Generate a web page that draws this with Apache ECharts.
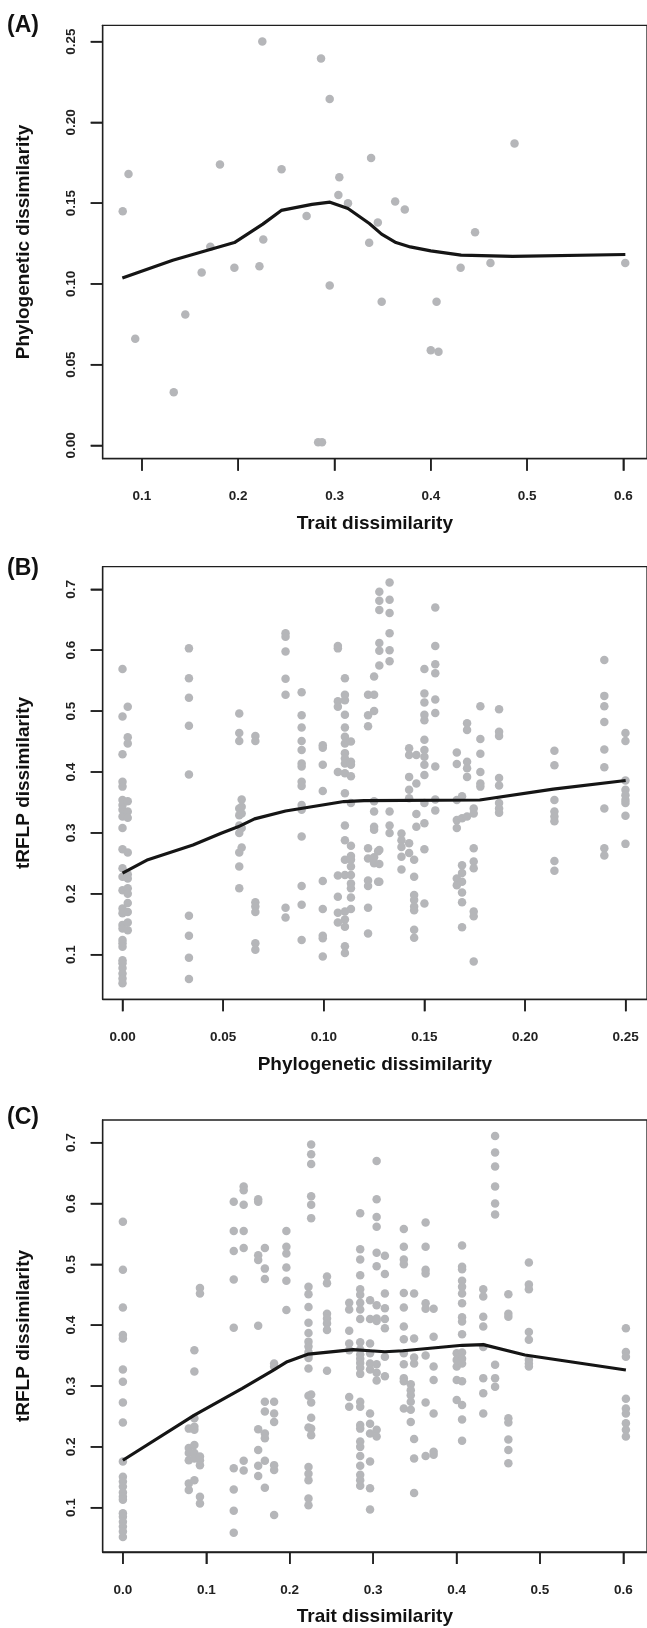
<!DOCTYPE html>
<html>
<head>
<meta charset="utf-8">
<script src="https://cdn.jsdelivr.net/npm/echarts@6/dist/echarts.min.js"></script>
<style>html,body{margin:0;padding:0;background:#fff;}#c{width:647px;height:1628px;}</style>
</head>
<body>
<div id="c"></div>
<script>
// ---------- Panel A: trait vs phylogenetic dissimilarity ----------
const aTrait = [0.080,0.086,0.181,0.225,0.245,0.286,0.295,0.338,0.305,0.304,0.314,0.363,0.373,0.271,0.345,0.226,0.171,0.336,0.446,0.487,0.431,0.462,0.602,0.196,0.222,0.162,0.093,0.145,0.133,0.295,0.349,0.406,0.400,0.408,0.283,0.287];
const aPhylo = [0.145,0.168,0.174,0.250,0.171,0.2395,0.2145,0.178,0.166,0.155,0.150,0.151,0.146,0.142,0.138,0.1275,0.123,0.1255,0.132,0.187,0.110,0.113,0.113,0.110,0.111,0.107,0.066,0.081,0.033,0.099,0.089,0.089,0.059,0.058,0.002,0.002];
const aFitX = [0.0796,0.132,0.196,0.2255,0.2447,0.2766,0.2953,0.314,0.3362,0.3489,0.3638,0.3787,0.400,0.4315,0.4851,0.6021];
const aFitY = [0.1036,0.1147,0.1256,0.137,0.1455,0.1492,0.1506,0.1467,0.1374,0.1308,0.1256,0.1229,0.1205,0.1178,0.1171,0.1182];
const aXTicks = [0.1,0.2,0.3,0.4,0.5,0.6];
const aYTicks = [0,0.05,0.10,0.15,0.20,0.25];

// ---------- Panel B: phylogenetic vs tRFLP dissimilarity (grouped by x) ----------
const bX = [0.000,0.0026,0.033,0.058,0.0592,0.066,0.081,0.089,0.0995,0.107,0.1105,0.1135,0.122,0.125,0.127,0.1276,0.1327,0.1386,0.1424,0.1449,0.146,0.150,0.1554,0.1661,0.1687,0.1712,0.1745,0.1778,0.1871,0.2146,0.2394,0.2499];
const bY = [
 [0.569,0.491,0.429,0.384,0.376,0.354,0.346,0.338,0.327,0.308,0.273,0.242,0.228,0.206,0.176,0.168,0.149,0.143,0.124,0.119,0.113,0.091,0.086,0.078,0.069,0.061,0.053],
 [0.507,0.457,0.447,0.352,0.335,0.325,0.268,0.232,0.225,0.209,0.200,0.185,0.170,0.153,0.140],
 [0.603,0.554,0.522,0.476,0.396,0.164,0.131,0.095,0.060],
 [0.496,0.464,0.451,0.340,0.329,0.312,0.300,0.268,0.245,0.209],
 [0.355,0.343,0.332,0.308,0.276],
 [0.459,0.451,0.186,0.179,0.170,0.119,0.108],
 [0.628,0.622,0.598,0.553,0.527,0.177,0.161],
 [0.531,0.493,0.473,0.451,0.436,0.414,0.409,0.384,0.377,0.346,0.338,0.294,0.213,0.182,0.124],
 [0.444,0.440,0.412,0.369,0.221,0.175,0.131,0.127,0.097],
 [0.607,0.603,0.516,0.507,0.400,0.230,0.195,0.169,0.153],
 [0.554,0.527,0.518,0.494,0.473,0.458,0.447,0.431,0.422,0.414,0.398,0.365,0.312,0.288,0.256,0.231,0.171,0.158,0.146,0.114,0.103],
 [0.450,0.417,0.412,0.393,0.349,0.279,0.262,0.256,0.245,0.231,0.217,0.209,0.194,0.175],
 [0.527,0.493,0.475,0.275,0.258,0.222,0.213,0.177,0.135],
 [0.557,0.527,0.500,0.352,0.335,0.310,0.305,0.260,0.250],
 [0.270,0.220],
 [0.696,0.681,0.666,0.612,0.599,0.575,0.272,0.249,0.220],
 [0.711,0.683,0.661,0.628,0.600,0.582,0.335,0.312,0.300],
 [0.299,0.288,0.277,0.261,0.240],
 [0.439,0.428,0.392,0.371,0.357,0.283,0.267],
 [0.256,0.228,0.198,0.190,0.179,0.173,0.141,0.128],
 [0.428,0.381,0.331,0.310],
 [0.569,0.529,0.514,0.494,0.485,0.453,0.436,0.425,0.412,0.395,0.349,0.316,0.273,0.184],
 [0.670,0.607,0.577,0.562,0.519,0.497,0.409,0.355,0.337],
 [0.432,0.413,0.354,0.321,0.308,0.225,0.214],
 [0.360,0.324,0.247,0.234,0.220,0.202,0.186,0.145],
 [0.480,0.469,0.417,0.406,0.392,0.327],
 [0.340,0.332,0.275,0.253,0.242,0.171,0.163,0.089],
 [0.508,0.454,0.430,0.400,0.381,0.376],
 [0.503,0.466,0.459,0.390,0.378,0.349,0.340,0.333],
 [0.435,0.411,0.354,0.335,0.327,0.319,0.254,0.238],
 [0.584,0.525,0.508,0.482,0.437,0.408,0.340,0.275,0.263],
 [0.464,0.451,0.386,0.371,0.362,0.354,0.349,0.328,0.282]
];
const bFitX = [0,0.0126,0.035,0.049,0.0574,0.0656,0.081,0.094,0.110,0.120,0.1775,0.214,0.25];
const bFitY = [0.234,0.256,0.280,0.2995,0.310,0.323,0.336,0.343,0.3515,0.353,0.354,0.372,0.386];
const bXTicks = [0,0.05,0.10,0.15,0.20,0.25];
const bYTicks = [0.1,0.2,0.3,0.4,0.5,0.6,0.7];

// ---------- Panel C: trait vs tRFLP dissimilarity (grouped by x) ----------
const cX = [0.000,0.079,0.0857,0.0924,0.1329,0.1448,0.1622,0.1702,0.1813,0.196,0.2225,0.2257,0.2447,0.2713,0.2845,0.2963,0.3042,0.3141,0.3368,0.3451,0.3491,0.3629,0.3725,0.4002,0.4066,0.4320,0.4462,0.4621,0.4867,0.6030];
const cY = [
 [0.570,0.491,0.429,0.384,0.378,0.327,0.307,0.273,0.240,0.176,0.151,0.143,0.135,0.125,0.118,0.113,0.091,0.085,0.077,0.069,0.061,0.052],
 [0.230,0.198,0.190,0.178,0.140,0.129],
 [0.359,0.324,0.247,0.233,0.228,0.203,0.190,0.181,0.145],
 [0.461,0.452,0.184,0.178,0.170,0.118,0.107],
 [0.603,0.555,0.522,0.475,0.396,0.165,0.130,0.095,0.059],
 [0.628,0.622,0.598,0.555,0.527,0.177,0.161],
 [0.607,0.603,0.515,0.507,0.399,0.229,0.195,0.169,0.152],
 [0.527,0.493,0.476,0.274,0.258,0.222,0.214,0.177,0.133],
 [0.337,0.332,0.274,0.255,0.241,0.170,0.162,0.088],
 [0.555,0.529,0.518,0.495,0.473,0.425],
 [0.463,0.451,0.430,0.404,0.387,0.373,0.365,0.356,0.351,0.346,0.329,0.284,0.232,0.167,0.156,0.145,0.115,0.104],
 [0.697,0.681,0.665,0.612,0.598,0.576,0.286,0.273,0.248,0.230,0.219],
 [0.480,0.469,0.419,0.411,0.403,0.392,0.325],
 [0.437,0.426,0.391,0.370,0.359,0.282,0.266],
 [0.584,0.525,0.508,0.482,0.459,0.450,0.437,0.426,0.410,0.372,0.360,0.352,0.345,0.338,0.330,0.320,0.274,0.266,0.236,0.230,0.209,0.200,0.185,0.169,0.154,0.145,0.136],
 [0.441,0.410,0.370,0.354,0.337,0.327,0.255,0.238,0.222,0.176,0.132,0.097],
 [0.670,0.607,0.578,0.562,0.519,0.497,0.433,0.411,0.407,0.336,0.322,0.309,0.228,0.217],
 [0.514,0.484,0.452,0.428,0.410,0.395,0.348,0.316],
 [0.558,0.529,0.508,0.500,0.453,0.429,0.398,0.377,0.354,0.336,0.313,0.308,0.263],
 [0.303,0.293,0.285,0.274,0.261,0.241],
 [0.452,0.378,0.347,0.337,0.213,0.181,0.124],
 [0.569,0.529,0.491,0.485,0.436,0.427,0.350,0.273,0.185],
 [0.427,0.381,0.332,0.310,0.255,0.192,0.187],
 [0.354,0.343,0.332,0.310,0.277],
 [0.531,0.496,0.492,0.473,0.463,0.452,0.436,0.413,0.406,0.385,0.355,0.345,0.337,0.308,0.269,0.245,0.210],
 [0.459,0.447,0.414,0.398,0.364,0.313,0.288,0.255],
 [0.711,0.684,0.661,0.628,0.600,0.582,0.335,0.313,0.299],
 [0.451,0.419,0.414,0.247,0.240,0.212,0.195,0.173],
 [0.503,0.467,0.459,0.389,0.376,0.343,0.337,0.332],
 [0.395,0.356,0.348,0.279,0.263,0.255,0.239,0.228,0.217]
];
const cFitX = [0,0.0857,0.1432,0.179,0.197,0.2225,0.276,0.2963,0.314,0.336,0.407,0.432,0.482,0.603];
const cFitY = [0.178,0.2523,0.296,0.325,0.340,0.3526,0.360,0.358,0.3564,0.358,0.367,0.368,0.351,0.3263];
const cXTicks = [0,0.1,0.2,0.3,0.4,0.5,0.6];
const cYTicks = [0.1,0.2,0.3,0.4,0.5,0.6,0.7];

// ---------- build ----------
const FONT = '"Liberation Sans", Arial, Helvetica, sans-serif';
const DOT = '#b5b6b9';
const INK = '#1f1f1f';
const TICK_LEN = 12;
const TICK_W = 1.5;

function pairs(xs, ys){ return xs.map((x,i)=>[x, ys[i]]); }
function groups(xs, yss){ const out=[]; xs.forEach((x,i)=>yss[i].forEach(y=>out.push([x,y]))); return out; }

function xAx(idx, min, max, ticks, dec, name){
  return {type:'value', gridIndex:idx, min:min, max:max, position:'bottom',
    name:name, nameLocation:'middle', nameGap:55.5,
    nameTextStyle:{fontFamily:FONT, fontWeight:'bold', fontSize:19, color:'#111'},
    axisLine:{show:true, onZero:false, lineStyle:{color:INK, width:1.3}}, splitLine:{show:false},
    axisTick:{show:true, inside:false, length:TICK_LEN, customValues:ticks, lineStyle:{color:INK, width:TICK_W}},
    axisLabel:{show:true, margin:31, customValues:ticks, fontFamily:FONT, fontWeight:'bold', fontSize:13.5, color:'#222',
      formatter:v=>Number(v).toFixed(dec)}};
}
function yAx(idx, min, max, ticks, dec, name){
  return {type:'value', gridIndex:idx, min:min, max:max, position:'left',
    name:name, nameLocation:'middle', nameGap:69, nameRotate:90,
    nameTextStyle:{fontFamily:FONT, fontWeight:'bold', fontSize:19, color:'#111'},
    axisLine:{show:true, onZero:false, lineStyle:{color:INK, width:1.3}}, splitLine:{show:false},
    axisTick:{show:true, inside:false, length:TICK_LEN, customValues:ticks, lineStyle:{color:INK, width:TICK_W}},
    axisLabel:{show:true, rotate:90, margin:24, customValues:ticks, fontFamily:FONT, fontWeight:'bold', fontSize:13.5, color:'#222',
      formatter:v=>Number(v).toFixed(dec)}};
}
function grid(top, height){
  return {left:102.7, top:top, width:548.3, height:height, show:true, borderColor:INK, borderWidth:1.3};
}
function scat(idx, data){
  return {type:'scatter', xAxisIndex:idx, yAxisIndex:idx, data:data, symbol:'circle', symbolSize:8.5,
    itemStyle:{color:DOT, opacity:1}, z:2};
}
function fit(idx, data){
  return {type:'line', xAxisIndex:idx, yAxisIndex:idx, data:data, showSymbol:false, symbol:'none', smooth:false,
    lineStyle:{color:'#151515', width:3.2}, z:3};
}
function panelTitle(txt, top){
  return {text:txt, left:7, top:top, padding:0, textStyle:{fontFamily:FONT, fontWeight:'bold', fontSize:23, color:'#111'}};
}

const ranges = [
  {x:[0.0592,0.6246], y:[-0.0082,0.2601], xt:aXTicks, yt:aYTicks},
  {x:[-0.00985,0.2606], y:[0.0268,0.7371], xt:bXTicks, yt:bYTicks},
  {x:[-0.0242,0.6283], y:[0.0272,0.7373], xt:cXTicks, yt:cYTicks}
];

const option = {
  animation:false,
  backgroundColor:'#fff',
  title:[panelTitle('(A)',14), panelTitle('(B)',557), panelTitle('(C)',1106)],
  grid:[grid(25.3,433.4), grid(566.7,432.6), grid(1120,432)],
  xAxis:[
    xAx(0,ranges[0].x[0],ranges[0].x[1],aXTicks,1,'Trait dissimilarity'),
    xAx(1,ranges[1].x[0],ranges[1].x[1],bXTicks,2,'Phylogenetic dissimilarity'),
    xAx(2,ranges[2].x[0],ranges[2].x[1],cXTicks,1,'Trait dissimilarity')
  ],
  yAxis:[
    yAx(0,ranges[0].y[0],ranges[0].y[1],aYTicks,2,'Phylogenetic dissimilarity'),
    yAx(1,ranges[1].y[0],ranges[1].y[1],bYTicks,1,'tRFLP dissimilarity'),
    yAx(2,ranges[2].y[0],ranges[2].y[1],cYTicks,1,'tRFLP dissimilarity')
  ],
  series:[
    scat(0,pairs(aTrait,aPhylo)), fit(0,pairs(aFitX,aFitY)),
    scat(1,groups(bX,bY)), fit(1,pairs(bFitX,bFitY)),
    scat(2,groups(cX,cY)), fit(2,pairs(cFitX,cFitY))
  ]
};
const chart = echarts.init(document.getElementById('c'));
chart.setOption(option);

// Outward tick marks (R style), placed through the chart's own axis scales.
const tickGraphics = [];
ranges.forEach((r, i) => {
  r.xt.forEach(v => {
    const p = chart.convertToPixel({gridIndex:i}, [v, r.y[0]]);
    if (p) tickGraphics.push({type:'line', z:100,
      shape:{x1:p[0], y1:p[1], x2:p[0], y2:p[1]+TICK_LEN}, style:{stroke:INK, lineWidth:TICK_W}});
  });
  r.yt.forEach(v => {
    const p = chart.convertToPixel({gridIndex:i}, [r.x[0], v]);
    if (p) tickGraphics.push({type:'line', z:100,
      shape:{x1:p[0]-TICK_LEN, y1:p[1], x2:p[0], y2:p[1]}, style:{stroke:INK, lineWidth:TICK_W}});
  });
});
chart.setOption({graphic:{elements:tickGraphics}});
</script>
</body>
</html>
